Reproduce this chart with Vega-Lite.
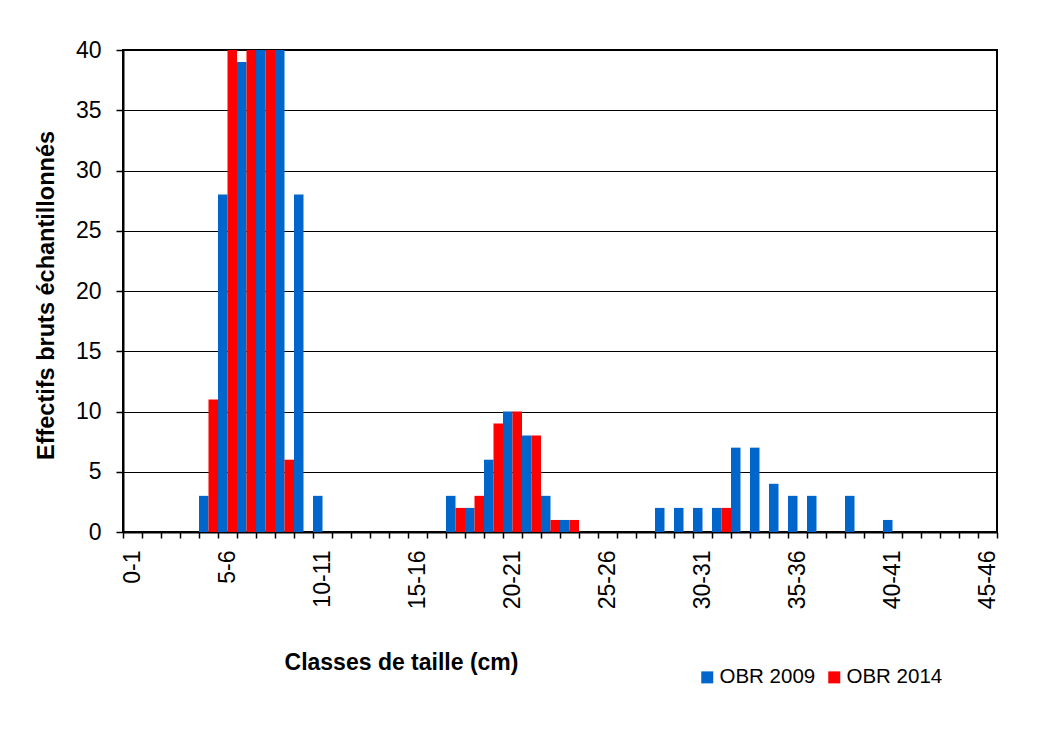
{
  "$schema": "https://vega.github.io/schema/vega-lite/v6.json",
  "width": 874,
  "height": 482,
  "autosize": {"type": "none"},
  "padding": {"left": 123, "top": 50, "right": 47, "bottom": 204},
  "background": "#ffffff",
  "data": {
    "values": [
      {"c": "0-1", "s": "OBR 2009", "n": 0}, {"c": "0-1", "s": "OBR 2014", "n": 0},
      {"c": "1-2", "s": "OBR 2009", "n": 0}, {"c": "1-2", "s": "OBR 2014", "n": 0},
      {"c": "2-3", "s": "OBR 2009", "n": 0}, {"c": "2-3", "s": "OBR 2014", "n": 0},
      {"c": "3-4", "s": "OBR 2009", "n": 0}, {"c": "3-4", "s": "OBR 2014", "n": 0},
      {"c": "4-5", "s": "OBR 2009", "n": 3}, {"c": "4-5", "s": "OBR 2014", "n": 11},
      {"c": "5-6", "s": "OBR 2009", "n": 28}, {"c": "5-6", "s": "OBR 2014", "n": 40},
      {"c": "6-7", "s": "OBR 2009", "n": 39}, {"c": "6-7", "s": "OBR 2014", "n": 40},
      {"c": "7-8", "s": "OBR 2009", "n": 40}, {"c": "7-8", "s": "OBR 2014", "n": 40},
      {"c": "8-9", "s": "OBR 2009", "n": 40}, {"c": "8-9", "s": "OBR 2014", "n": 6},
      {"c": "9-10", "s": "OBR 2009", "n": 28}, {"c": "9-10", "s": "OBR 2014", "n": 0},
      {"c": "10-11", "s": "OBR 2009", "n": 3}, {"c": "10-11", "s": "OBR 2014", "n": 0},
      {"c": "11-12", "s": "OBR 2009", "n": 0}, {"c": "11-12", "s": "OBR 2014", "n": 0},
      {"c": "12-13", "s": "OBR 2009", "n": 0}, {"c": "12-13", "s": "OBR 2014", "n": 0},
      {"c": "13-14", "s": "OBR 2009", "n": 0}, {"c": "13-14", "s": "OBR 2014", "n": 0},
      {"c": "14-15", "s": "OBR 2009", "n": 0}, {"c": "14-15", "s": "OBR 2014", "n": 0},
      {"c": "15-16", "s": "OBR 2009", "n": 0}, {"c": "15-16", "s": "OBR 2014", "n": 0},
      {"c": "16-17", "s": "OBR 2009", "n": 0}, {"c": "16-17", "s": "OBR 2014", "n": 0},
      {"c": "17-18", "s": "OBR 2009", "n": 3}, {"c": "17-18", "s": "OBR 2014", "n": 2},
      {"c": "18-19", "s": "OBR 2009", "n": 2}, {"c": "18-19", "s": "OBR 2014", "n": 3},
      {"c": "19-20", "s": "OBR 2009", "n": 6}, {"c": "19-20", "s": "OBR 2014", "n": 9},
      {"c": "20-21", "s": "OBR 2009", "n": 10}, {"c": "20-21", "s": "OBR 2014", "n": 10},
      {"c": "21-22", "s": "OBR 2009", "n": 8}, {"c": "21-22", "s": "OBR 2014", "n": 8},
      {"c": "22-23", "s": "OBR 2009", "n": 3}, {"c": "22-23", "s": "OBR 2014", "n": 1},
      {"c": "23-24", "s": "OBR 2009", "n": 1}, {"c": "23-24", "s": "OBR 2014", "n": 1},
      {"c": "24-25", "s": "OBR 2009", "n": 0}, {"c": "24-25", "s": "OBR 2014", "n": 0},
      {"c": "25-26", "s": "OBR 2009", "n": 0}, {"c": "25-26", "s": "OBR 2014", "n": 0},
      {"c": "26-27", "s": "OBR 2009", "n": 0}, {"c": "26-27", "s": "OBR 2014", "n": 0},
      {"c": "27-28", "s": "OBR 2009", "n": 0}, {"c": "27-28", "s": "OBR 2014", "n": 0},
      {"c": "28-29", "s": "OBR 2009", "n": 2}, {"c": "28-29", "s": "OBR 2014", "n": 0},
      {"c": "29-30", "s": "OBR 2009", "n": 2}, {"c": "29-30", "s": "OBR 2014", "n": 0},
      {"c": "30-31", "s": "OBR 2009", "n": 2}, {"c": "30-31", "s": "OBR 2014", "n": 0},
      {"c": "31-32", "s": "OBR 2009", "n": 2}, {"c": "31-32", "s": "OBR 2014", "n": 2},
      {"c": "32-33", "s": "OBR 2009", "n": 7}, {"c": "32-33", "s": "OBR 2014", "n": 0},
      {"c": "33-34", "s": "OBR 2009", "n": 7}, {"c": "33-34", "s": "OBR 2014", "n": 0},
      {"c": "34-35", "s": "OBR 2009", "n": 4}, {"c": "34-35", "s": "OBR 2014", "n": 0},
      {"c": "35-36", "s": "OBR 2009", "n": 3}, {"c": "35-36", "s": "OBR 2014", "n": 0},
      {"c": "36-37", "s": "OBR 2009", "n": 3}, {"c": "36-37", "s": "OBR 2014", "n": 0},
      {"c": "37-38", "s": "OBR 2009", "n": 0}, {"c": "37-38", "s": "OBR 2014", "n": 0},
      {"c": "38-39", "s": "OBR 2009", "n": 3}, {"c": "38-39", "s": "OBR 2014", "n": 0},
      {"c": "39-40", "s": "OBR 2009", "n": 0}, {"c": "39-40", "s": "OBR 2014", "n": 0},
      {"c": "40-41", "s": "OBR 2009", "n": 1}, {"c": "40-41", "s": "OBR 2014", "n": 0},
      {"c": "41-42", "s": "OBR 2009", "n": 0}, {"c": "41-42", "s": "OBR 2014", "n": 0},
      {"c": "42-43", "s": "OBR 2009", "n": 0}, {"c": "42-43", "s": "OBR 2014", "n": 0},
      {"c": "43-44", "s": "OBR 2009", "n": 0}, {"c": "43-44", "s": "OBR 2014", "n": 0},
      {"c": "44-45", "s": "OBR 2009", "n": 0}, {"c": "44-45", "s": "OBR 2014", "n": 0},
      {"c": "45-46", "s": "OBR 2009", "n": 0}, {"c": "45-46", "s": "OBR 2014", "n": 0}
    ]
  },
  "mark": {"type": "bar", "clip": true},
  "encoding": {
    "x": {
      "field": "c",
      "type": "nominal",
      "sort": null,
      "scale": {"paddingInner": 0, "paddingOuter": 0},
      "axis": {
        "title": "Classes de taille  (cm)",
        "titleFont": "Liberation Sans",
        "titleFontSize": 23,
        "titleFontWeight": "bold",
        "titleColor": "#000",
        "titleX": 278,
        "titleY": 130,
        "titleAlign": "center",
        "titleBaseline": "middle",
        "titleAnchor": null,
        "labelAngle": -90,
        "labelFont": "Liberation Sans",
        "labelFontSize": 23,
        "labelColor": "#000",
        "labelPadding": 12,
        "labelOverlap": false,
        "labelExpr": "indexof(['0-1','5-6','10-11','15-16','20-21','25-26','30-31','35-36','40-41','45-46'], datum.value) >= 0 ? datum.value : ''",
        "tickBand": "extent",
        "tickSize": 6,
        "tickColor": "#000",
        "tickWidth": 1.5,
        "domainColor": "#000",
        "domainWidth": 2,
        "grid": false
      }
    },
    "xOffset": {"field": "s", "type": "nominal", "scale": {"paddingInner": 0, "paddingOuter": 0}},
    "y": {
      "field": "n",
      "type": "quantitative",
      "scale": {"domain": [0, 40], "nice": false},
      "axis": {
        "title": "Effectifs bruts échantillonnés",
        "titleFont": "Liberation Sans",
        "titleFontSize": 23.5,
        "titleFontWeight": "bold",
        "titleColor": "#000",
        "titleAngle": -90,
        "titleX": -77,
        "titleY": 245,
        "titleAlign": "center",
        "titleBaseline": "middle",
        "titleAnchor": null,
        "values": [0, 5, 10, 15, 20, 25, 30, 35, 40],
        "labelFont": "Liberation Sans",
        "labelFontSize": 23,
        "labelColor": "#000",
        "labelPadding": 15,
        "tickSize": 7,
        "tickColor": "#000",
        "tickWidth": 1.5,
        "domainColor": "#000",
        "domainWidth": 2,
        "grid": true,
        "gridColor": "#000",
        "gridWidth": 1.2,
        "gridOpacity": 1
      }
    },
    "color": {
      "field": "s",
      "type": "nominal",
      "scale": {"domain": ["OBR 2009", "OBR 2014"], "range": ["#0066CC", "#FF0000"]},
      "legend": {
        "title": null,
        "orient": "none",
        "direction": "horizontal",
        "legendX": 574,
        "legendY": 617,
        "symbolType": "square",
        "symbolSize": 144,
        "symbolStrokeWidth": 0,
        "symbolOpacity": 1,
        "labelFont": "Liberation Sans",
        "labelFontSize": 20.5,
        "labelColor": "#000",
        "labelOffset": 2,
        "columnPadding": 8,
        "padding": 0
      }
    }
  },
  "config": {
    "view": {"stroke": "#000", "strokeWidth": 2},
    "bar": {"opacity": 1}
  }
}
